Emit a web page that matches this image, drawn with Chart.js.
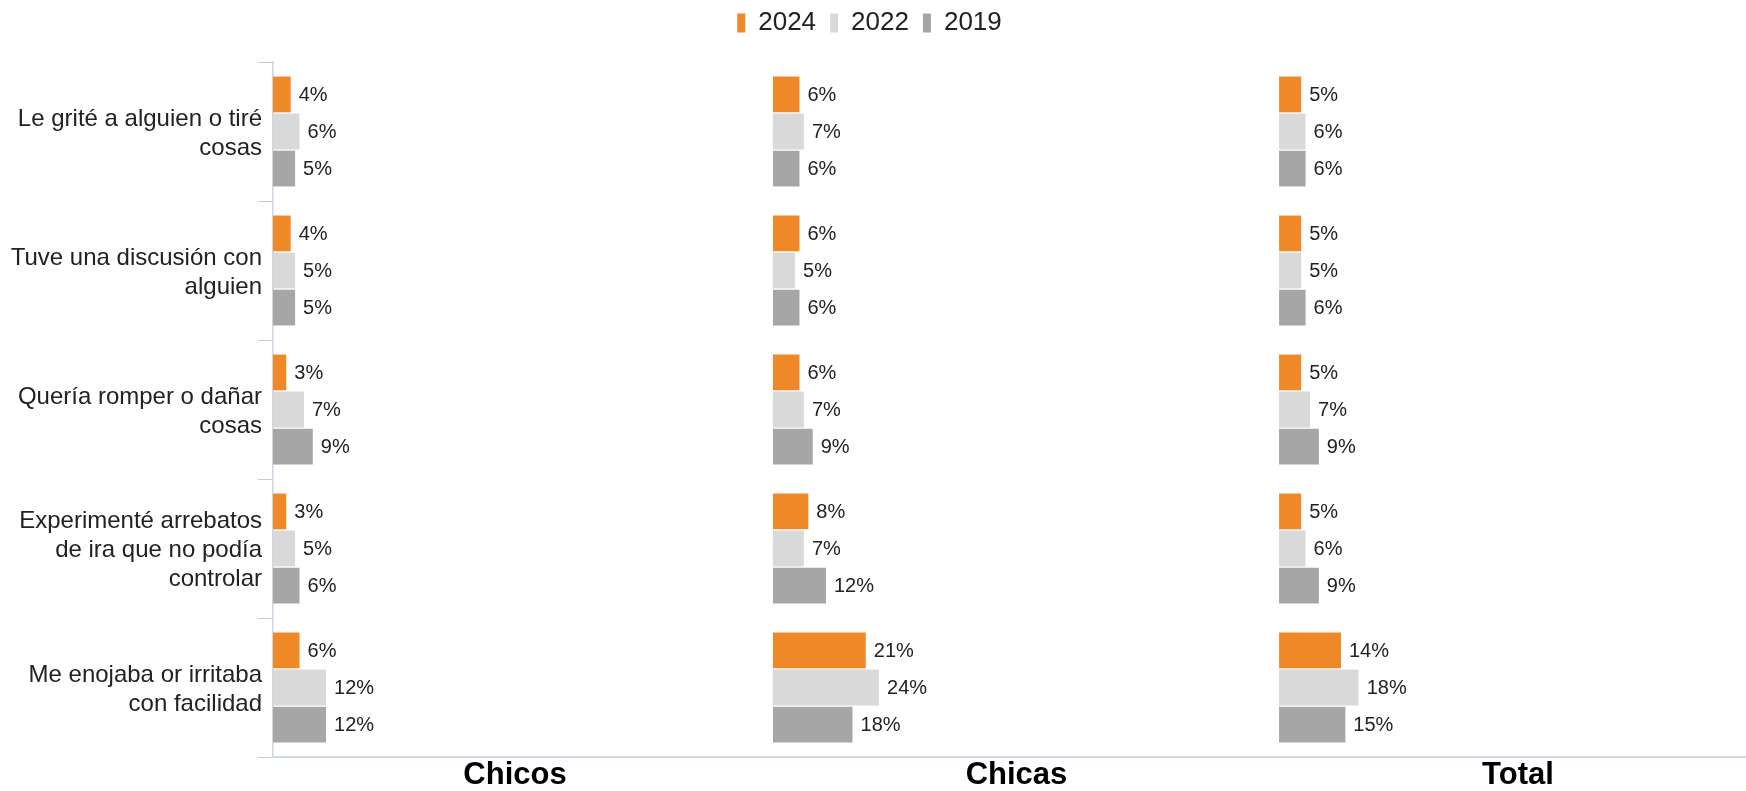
<!DOCTYPE html>
<html lang="es">
<head>
<meta charset="utf-8">
<title>Enojo e irritabilidad: Chicos, Chicas y Total</title>
<script src="https://cdn.jsdelivr.net/npm/chart.js@4.4.1/dist/chart.umd.min.js"></script>
<style>
  html, body { margin: 0; padding: 0; background: #fff; overflow: hidden; }
  /* the plot runs slightly past the right edge of the window */
  #wrap { width: 1760px; height: 791px; position: relative; }
</style>
</head>
<body>
<div id="wrap"><canvas id="chart"></canvas></div>
<script>
// Categories (multi-line labels for the y axis)
const categories = [
    ['Le grité a alguien o tiré', 'cosas'],
    ['Tuve una discusión con', 'alguien'],
    ['Quería romper o dañar', 'cosas'],
    ['Experimenté arrebatos', 'de ira que no podía', 'controlar'],
    ['Me enojaba or irritaba', 'con facilidad']
];

const years = ['2024', '2022', '2019'];
const panels = ['Chicos', 'Chicas', 'Total'];

// Percentages per panel, one array per year
const chicos2024 = [4, 4, 3, 3, 6];
const chicos2022 = [6, 5, 7, 5, 12];
const chicos2019 = [5, 5, 9, 6, 12];

const chicas2024 = [6, 6, 6, 8, 21];
const chicas2022 = [7, 5, 7, 7, 24];
const chicas2019 = [6, 6, 9, 12, 18];

const total2024 = [5, 5, 5, 5, 14];
const total2022 = [6, 5, 7, 6, 18];
const total2019 = [6, 6, 9, 9, 15];

const panelData = [
    [chicos2024, chicos2022, chicos2019],
    [chicas2024, chicas2022, chicas2019],
    [total2024, total2022, total2019]
];

const yearColors = ['#EF8826', '#D9D9D9', '#A6A6A6'];

Chart.defaults.font.family = '"Liberation Sans", Arial, Helvetica, sans-serif';
Chart.defaults.color = '#222';

// One x axis per panel, laid side by side on the bottom edge (same px per %)
const axisRanges = [[0, 109.5], [-3.6, 113.8], [-0.7, 108.8]];

function panelAxis(name, range) {
    return {
        type: 'linear',
        position: 'bottom',
        stack: 'panels',
        stackWeight: range[1] - range[0],
        min: range[0],
        max: range[1],
        stacked: false,
        grid: { display: false, drawTicks: false },
        ticks: { display: false },
        border: { display: true, color: '#CFDAE6', width: 2 },
        title: {
            display: true,
            text: name,
            color: '#000',
            font: { size: 31, weight: 'bold', lineHeight: 1 },
            padding: { top: 3, bottom: 0 }
        }
    };
}

const datasets = [];
panels.forEach((panel, p) => {
    years.forEach((year, k) => {
        datasets.push({
            label: year,
            data: panelData[p][k],
            backgroundColor: yearColors[k],
            borderWidth: 0,
            xAxisID: 'x' + p,
            stack: year,
            categoryPercentage: 0.8,
            barPercentage: 0.965
        });
    });
});

const scales = {
    y: {
        type: 'category',
        offset: true,
        afterFit(scale) { scale.width = 262; },
        grid: {
            offset: true,
            drawOnChartArea: false,
            drawTicks: true,
            tickLength: 15,
            color: '#CCCCCC'
        },
        border: { display: true, color: '#CDD6E1', width: 1.5 },
        ticks: {
            color: '#222',
            font: { size: 24, lineHeight: 1.2 },
            padding: -4,
            labelOffset: 2,
            autoSkip: false
        }
    }
};
panels.forEach((panel, p) => {
    scales['x' + p] = panelAxis(panel, axisRanges[p]);
});

// Value labels to the right of each bar
const valueLabels = {
    id: 'valueLabels',
    afterDatasetsDraw(chart) {
        const { ctx } = chart;
        ctx.save();
        ctx.font = '20px "Liberation Sans", Arial, sans-serif';
        ctx.fillStyle = '#222';
        ctx.textAlign = 'left';
        ctx.textBaseline = 'middle';
        chart.data.datasets.forEach((ds, i) => {
            chart.getDatasetMeta(i).data.forEach((bar, j) => {
                ctx.fillText(ds.data[j] + '%', bar.x + 8, bar.y + 1);
            });
        });
        ctx.restore();
    }
};

// Fixed legend band height, and legend nudged a little to the left
const legendBand = {
    id: 'legendBand',
    beforeInit(chart) {
        const fit = chart.legend.fit;
        chart.legend.fit = function () {
            fit.call(this);
            this.height = 66;
        };
    },
    afterLayout(chart) {
        chart.legend.left -= 16;
        chart.legend.right -= 16;
    }
};

new Chart(document.getElementById('chart'), {
    type: 'bar',
    data: { labels: categories, datasets },
    options: {
        indexAxis: 'y',
        responsive: true,
        maintainAspectRatio: false,
        animation: false,
        layout: { padding: { left: 11, right: 0, top: -4, bottom: 0 } },
        scales,
        plugins: {
            legend: {
                position: 'top',
                labels: {
                    boxWidth: 8,
                    boxHeight: 19,
                    padding: 14,
                    color: '#222',
                    font: { size: 26 },
                    filter: item => item.datasetIndex < 3
                }
            },
            tooltip: { enabled: false }
        }
    },
    plugins: [valueLabels, legendBand]
});
</script>
</body>
</html>
